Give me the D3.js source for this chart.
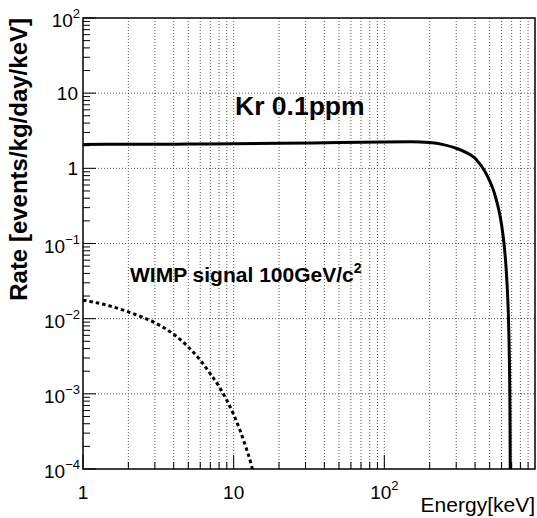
<!DOCTYPE html>
<html lang="en">
<head>
    <meta charset="utf-8">
    <script src='https://d3js.org/d3.v7.min.js'></script>
    <title>Kr 0.1ppm vs WIMP signal</title>
    <style>
      body { margin: 0; background: #fff; }
      text { font-family: "Liberation Sans", Arial, Helvetica, sans-serif; }
    </style>
</head>
<body>
<script>
  var width = 537, height = 518;

  // Kr-85 (0.1 ppm) beta spectrum
  var krEnergy = [1, 2, 5, 10, 20, 50, 100, 150, 200, 250, 300, 350, 375, 400, 425, 450, 475, 500, 525, 550, 575, 600, 620, 640, 655, 665, 672, 678, 682, 685, 686];
  var krRate   = [2.08, 2.09, 2.10, 2.12, 2.15, 2.20, 2.24, 2.25, 2.20, 2.05, 1.85, 1.62, 1.50, 1.36, 1.18, 1.01, 0.84, 0.68, 0.54, 0.40, 0.28, 0.178, 0.108, 0.054, 0.025, 0.012, 0.0055, 0.002, 0.0006, 0.0001, 0.00003];

  // WIMP signal 100 GeV/c^2
  var wimpEnergy = [1, 1.5, 2, 3, 4, 5, 6, 7, 8, 9, 10, 11, 12, 13, 13.3];
  var wimpRate   = [0.0176, 0.0148, 0.0123, 0.0088, 0.0062, 0.0042, 0.0028, 0.00185, 0.00125, 0.00082, 0.00053, 0.00033, 0.0002, 0.00012, 0.0001];

  var xTickValues = [1, 10, 100];
  var xTickLabels = [["1", ""], ["10", ""], ["10", "2"]];
  var yTickValues = [1e-4, 1e-3, 1e-2, 1e-1, 1, 10, 100];
  var yTickLabels = [["10", "\u22124"], ["10", "\u22123"], ["10", "\u22122"], ["10", "\u22121"], ["1", ""], ["10", ""], ["10", "2"]];

  var margin = {left: 83, top: 18, right: 2, bottom: 49};
  var x0 = margin.left, x1 = width - margin.right;
  var y0 = margin.top, y1 = height - margin.bottom;

  var x = d3.scaleLog().domain([1, 1000]).range([x0, x1]);
  var y = d3.scaleLog().domain([1e-4, 100]).range([y1, y0]);

  var svg = d3.select('body').append('svg')
    .attr('width', width).attr('height', height)
    .attr('font-family', 'Liberation Sans, Arial, Helvetica, sans-serif');

  svg.append('defs').append('clipPath').attr('id', 'frame')
    .append('rect').attr('x', x0).attr('y', y0).attr('width', x1 - x0).attr('height', y1 - y0);

  // minor tick values
  var xMinor = [], yMinor = [];
  [1, 10, 100].forEach(function(d) { for (var k = 2; k <= 9; k++) xMinor.push(d * k); });
  yTickValues.slice(0, -1).forEach(function(d) { for (var k = 2; k <= 9; k++) yMinor.push(d * k); });

  // grid
  var grid = svg.append('g').attr('stroke', '#555').attr('stroke-width', 1)
    .attr('stroke-dasharray', '1,2').attr('fill', 'none');
  grid.selectAll('.gx').data(xMinor.concat([10, 100])).join('line')
    .attr('x1', function(d) { return x(d); }).attr('x2', function(d) { return x(d); })
    .attr('y1', y0).attr('y2', y1);
  grid.selectAll('.gy').data(yTickValues.slice(1, -1)).join('line')
    .attr('x1', x0).attr('x2', x1)
    .attr('y1', function(d) { return y(d); }).attr('y2', function(d) { return y(d); });

  // ticks (inside, bottom and left only)
  var ticks = svg.append('g').attr('stroke', '#000').attr('stroke-width', 1);
  ticks.selectAll('.xt').data(xMinor.concat(xTickValues)).join('line')
    .attr('x1', function(d) { return x(d); }).attr('x2', function(d) { return x(d); })
    .attr('y1', y1).attr('y2', function(d) { return y1 - (xTickValues.indexOf(d) >= 0 ? 14 : 7); });
  ticks.selectAll('.yt').data(yMinor.concat(yTickValues)).join('line')
    .attr('y1', function(d) { return y(d); }).attr('y2', function(d) { return y(d); })
    .attr('x1', x0).attr('x2', function(d) { return x0 + (yTickValues.indexOf(d) >= 0 ? 13 : 7); });

  // curves
  var line = d3.line()
    .x(function(d) { return x(d[0]); })
    .y(function(d) { return y(d[1]); })
    .curve(d3.curveMonotoneX);

  var plot = svg.append('g').attr('clip-path', 'url(#frame)');
  plot.append('path')
    .datum(d3.zip(krEnergy, krRate))
    .attr('d', line).attr('fill', 'none')
    .attr('stroke', '#000').attr('stroke-width', 3);
  plot.append('path')
    .datum(d3.zip(wimpEnergy, wimpRate))
    .attr('d', line).attr('fill', 'none')
    .attr('stroke', '#000').attr('stroke-width', 3)
    .attr('stroke-dasharray', '3.5,3');

  // frame
  svg.append('rect').attr('x', x0).attr('y', y0)
    .attr('width', x1 - x0).attr('height', y1 - y0)
    .attr('fill', 'none').attr('stroke', '#000').attr('stroke-width', 1.5);

  // tick labels
  function powLabel(sel, lab) {
    sel.append('tspan').text(lab[0]);
    if (lab[1]) sel.append('tspan').attr('font-size', 13).attr('dy', -9).text(lab[1]);
  }
  xTickValues.forEach(function(d, i) {
    var t = svg.append('text').attr('x', x(d)).attr('y', 499)
      .attr('text-anchor', 'middle').attr('font-size', 19);
    powLabel(t, xTickLabels[i]);
  });
  yTickValues.forEach(function(d, i) {
    var lab = yTickLabels[i];
    var t = svg.append('text').attr('x', lab[1] ? 80 : 78).attr('y', y(d) + (lab[1] ? 9 : 7))
      .attr('text-anchor', 'end').attr('font-size', 19);
    powLabel(t, lab);
  });

  // axis titles
  svg.append('text').attr('x', x1).attr('y', 512)
    .attr('text-anchor', 'end').attr('font-size', 21).text('Energy[keV]');
  svg.append('text')
    .attr('transform', 'translate(27,' + y0 + ') rotate(-90)')
    .attr('text-anchor', 'end').attr('font-size', 24).attr('font-weight', 'bold')
    .text('Rate [events/kg/day/keV]');

  // annotations
  svg.append('text').attr('x', 235).attr('y', 115)
    .attr('font-size', 26.5).attr('font-weight', 'bold').text('Kr 0.1ppm');
  var w = svg.append('text').attr('x', 130).attr('y', 282)
    .attr('font-size', 21).attr('font-weight', 'bold');
  w.append('tspan').text('WIMP signal 100GeV/c');
  w.append('tspan').attr('font-size', 14).attr('dy', -9).text('2');

  console.log('ready..');
</script>
</body>
</html>
